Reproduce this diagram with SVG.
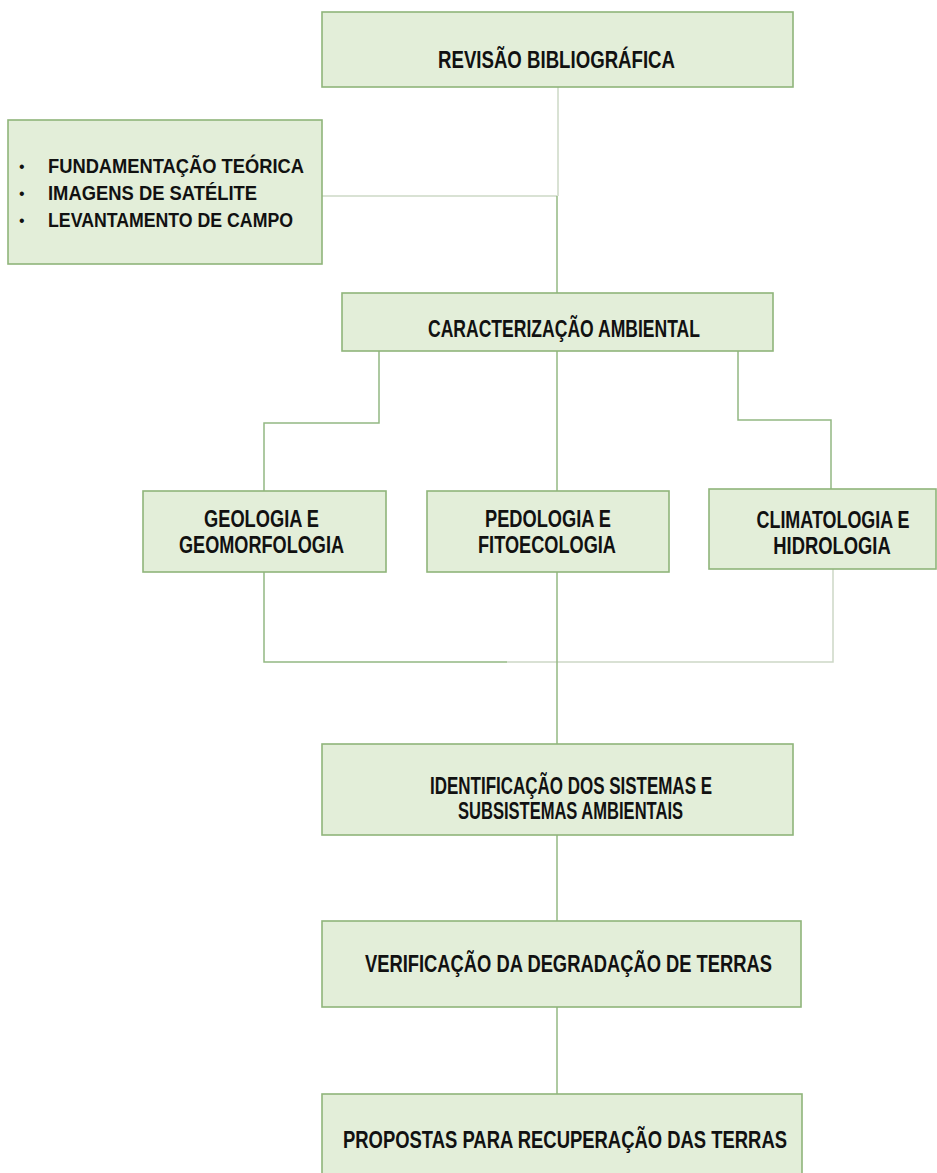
<svg xmlns="http://www.w3.org/2000/svg" width="937" height="1173" viewBox="0 0 937 1173">
<style>
.box{fill:#e3eed9;stroke:#8fb57a;stroke-width:1.6}
.t{font-family:"Liberation Sans",Arial,sans-serif;font-weight:bold;font-size:23px;fill:#111}
.s{font-size:21px}
.m{text-anchor:middle}
.b{font-family:"Liberation Sans",Arial,sans-serif;font-size:16px;fill:#111}
.g{fill:none;stroke:#93b882;stroke-width:1.5}
.l{fill:none;stroke:#cdd8c6;stroke-width:1.5}
</style>
<rect width="937" height="1173" fill="#fff"/>
<g id="connectors">
<path class="l" d="M558 87V196"/>
<path class="l" d="M322 196H557"/>
<path class="g" d="M557 196V293"/>
<path class="g" d="M379 351V423H264V491"/>
<path class="g" d="M557 351V491"/>
<path class="g" d="M738 351V420H831V489"/>
<path class="g" d="M264 572V662H507"/>
<path class="l" d="M507 662H833V569"/>
<path class="g" d="M557 572V744"/>
<path class="g" d="M557 835V921"/>
<path class="g" d="M557 1007V1094"/>
</g>
<g id="revisao">
<rect class="box" x="322" y="12" width="471" height="75"/>
<text class="t" x="438" y="68" textLength="237" lengthAdjust="spacingAndGlyphs">REVISÃO BIBLIOGRÁFICA</text>
</g>
<g id="fundamentos">
<rect class="box" x="8" y="120" width="314" height="144"/>
<text class="b" x="19" y="172">•</text>
<text class="b" x="19" y="199">•</text>
<text class="b" x="19" y="226">•</text>
<text class="t s" x="48" y="173" textLength="256" lengthAdjust="spacingAndGlyphs">FUNDAMENTAÇÃO TEÓRICA</text>
<text class="t s" x="48" y="200" textLength="209" lengthAdjust="spacingAndGlyphs">IMAGENS DE SATÉLITE</text>
<text class="t s" x="48" y="227" textLength="245" lengthAdjust="spacingAndGlyphs">LEVANTAMENTO DE CAMPO</text>
</g>
<g id="caracterizacao">
<rect class="box" x="342" y="293" width="431" height="58"/>
<text class="t" x="428" y="337" textLength="272" lengthAdjust="spacingAndGlyphs">CARACTERIZAÇÃO AMBIENTAL</text>
</g>
<g id="geologia">
<rect class="box" x="143" y="491" width="243" height="81"/>
<text class="t" x="204" y="527" textLength="115" lengthAdjust="spacingAndGlyphs">GEOLOGIA E</text>
<text class="t" x="179" y="553" textLength="165" lengthAdjust="spacingAndGlyphs">GEOMORFOLOGIA</text>
</g>
<g id="pedologia">
<rect class="box" x="427" y="491" width="242" height="81"/>
<text class="t" x="485" y="527" textLength="126" lengthAdjust="spacingAndGlyphs">PEDOLOGIA E</text>
<text class="t" x="478" y="553" textLength="138" lengthAdjust="spacingAndGlyphs">FITOECOLOGIA</text>
</g>
<g id="climatologia">
<rect class="box" x="709" y="489" width="227" height="80"/>
<text class="t m" transform="translate(833 528) scale(0.78 1)">CLIMATOLOGIA E</text>
<text class="t m" transform="translate(832 554) scale(0.8 1)">HIDROLOGIA</text>
</g>
<g id="identificacao">
<rect class="box" x="322" y="744" width="471" height="91"/>
<text class="t" x="430" y="794" textLength="282" lengthAdjust="spacingAndGlyphs">IDENTIFICAÇÃO DOS SISTEMAS E</text>
<text class="t" x="458" y="819" textLength="225" lengthAdjust="spacingAndGlyphs">SUBSISTEMAS AMBIENTAIS</text>
</g>
<g id="verificacao">
<rect class="box" x="322" y="921" width="479" height="86"/>
<text class="t" x="365" y="972" textLength="407" lengthAdjust="spacingAndGlyphs">VERIFICAÇÃO DA DEGRADAÇÃO DE TERRAS</text>
</g>
<g id="propostas">
<rect class="box" x="322" y="1094" width="480" height="86"/>
<text class="t" x="343" y="1148" textLength="444" lengthAdjust="spacingAndGlyphs">PROPOSTAS PARA RECUPERAÇÃO DAS TERRAS</text>
</g>
</svg>
